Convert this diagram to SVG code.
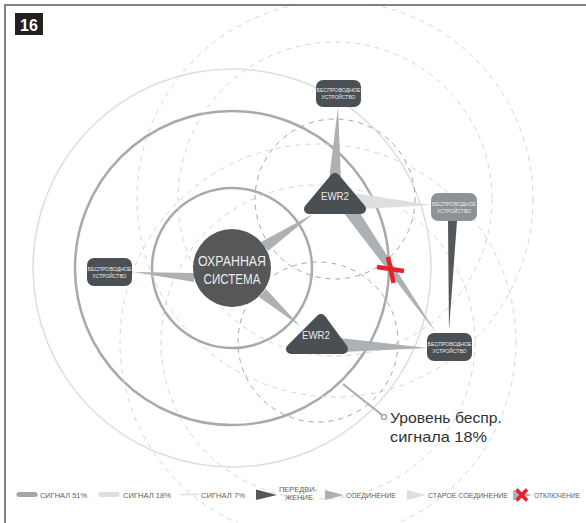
<svg xmlns="http://www.w3.org/2000/svg" width="586" height="523" viewBox="0 0 586 523">
<style>
text{font-family:"Liberation Sans","DejaVu Sans",Arial,sans-serif}
.ring51{fill:none;stroke:#a6aaad;stroke-width:2.5}
.ring7{fill:none;stroke:#dcdedf;stroke-width:1.5}
.dash51{fill:none;stroke:#a2a6a9;stroke-width:1;stroke-dasharray:5 5}
.dashlt{fill:none;stroke:#d3d5d6;stroke-width:1;stroke-dasharray:5 5}
.conn{fill:#adb1b3}
.old{fill:#dcdedf}
.move{fill:#53585c}
.dev{fill:#4b5054}
.devg{fill:#8d9295}
.devt{fill:#eceded;font-size:6px;text-anchor:middle}
.ewr{fill:#4a4f53;stroke:#4a4f53;stroke-width:10;stroke-linejoin:round}
.ewrt{fill:#e9eaeb;font-size:11.5px;text-anchor:middle}
.leg{fill:#5d6164;font-size:7.5px}
.x{stroke:#e42229;stroke-width:4.5;stroke-linecap:butt}
</style>
<defs>
<clipPath id="area"><rect x="5" y="5" width="581" height="518"/></clipPath>
</defs>
<rect width="586" height="523" fill="#ffffff"/>
<g id="rings" clip-path="url(#area)">
<circle class="ring7" cx="232" cy="268" r="199"/>
<circle class="ring51" cx="232" cy="268" r="157"/>
<circle class="ring51" cx="232" cy="268" r="80"/>
<circle class="dashlt" cx="335" cy="199" r="198"/>
<circle class="dashlt" cx="335" cy="199" r="157"/>
<circle class="dash51" cx="335" cy="199" r="80"/>
<circle class="dashlt" cx="318" cy="342" r="198"/>
<circle class="dashlt" cx="318" cy="342" r="157"/>
<circle class="dash51" cx="318" cy="342" r="80"/>
</g>
<g id="connectors">
<polygon class="conn" points="261,242 268,251 313,214"/>
<polygon class="conn" points="194,273 194,282 133,272"/>
<polygon class="conn" points="259,297 266,289 300,326"/>
<polygon class="conn" points="329,180 341,180 338,107"/>
<polygon class="old" points="352,193 362,209 432,205"/>
<polygon class="conn" points="343,212 358,210 437,334"/>
<polygon class="conn" points="340,338 342,352 428,348"/>
<polygon class="move" points="448,221 457,221 449,330"/>
</g>
<g id="system">
<circle cx="232" cy="268" r="39" fill="#555759"/>
<text x="232" y="266" font-size="14" fill="#eceded" text-anchor="middle" textLength="68" lengthAdjust="spacingAndGlyphs">ОХРАННАЯ</text>
<text x="232" y="284" font-size="14" fill="#eceded" text-anchor="middle" textLength="57" lengthAdjust="spacingAndGlyphs">СИСТЕМА</text>
</g>
<g id="ewr2-top">
<polygon class="ewr" points="335,178 309,209 361,209"/>
<text class="ewrt" x="335" y="200" textLength="28" lengthAdjust="spacingAndGlyphs">EWR2</text>
</g>
<g id="ewr2-bottom">
<polygon class="ewr" points="321,319 291,349 343,349"/>
<text class="ewrt" x="316" y="339" textLength="28" lengthAdjust="spacingAndGlyphs">EWR2</text>
</g>
<g id="device-top">
<rect class="dev" x="316" y="80" width="45" height="27" rx="7"/>
<text class="devt" x="338.5" y="92" textLength="44" lengthAdjust="spacingAndGlyphs">БЕСПРОВОДНОЕ</text>
<text class="devt" x="338.5" y="99" textLength="34" lengthAdjust="spacingAndGlyphs">УСТРОЙСТВО</text>
</g>
<g id="device-left">
<rect class="dev" x="87" y="258" width="45" height="28" rx="7"/>
<text class="devt" x="109.5" y="271" textLength="44" lengthAdjust="spacingAndGlyphs">БЕСПРОВОДНОЕ</text>
<text class="devt" x="109.5" y="278" textLength="34" lengthAdjust="spacingAndGlyphs">УСТРОЙСТВО</text>
</g>
<g id="device-right">
<rect class="devg" x="431" y="193" width="46" height="28" rx="7"/>
<text class="devt" x="454" y="206" textLength="44" lengthAdjust="spacingAndGlyphs">БЕСПРОВОДНОЕ</text>
<text class="devt" x="454" y="213" textLength="34" lengthAdjust="spacingAndGlyphs">УСТРОЙСТВО</text>
</g>
<g id="device-bottom">
<rect class="dev" x="427" y="333" width="45" height="28" rx="7"/>
<text class="devt" x="449.5" y="346" textLength="44" lengthAdjust="spacingAndGlyphs">БЕСПРОВОДНОЕ</text>
<text class="devt" x="449.5" y="353" textLength="34" lengthAdjust="spacingAndGlyphs">УСТРОЙСТВО</text>
</g>
<g id="disconnect">
<line class="x" x1="377" y1="267" x2="404" y2="271"/>
<line class="x" x1="388" y1="257" x2="393.5" y2="283"/>
</g>
<g id="signal-label">
<line x1="343" y1="384" x2="382" y2="415" stroke="#a6aaad" stroke-width="2"/>
<circle cx="384" cy="417" r="2.5" fill="#ffffff" stroke="#a6aaad" stroke-width="1.5"/>
<text x="390" y="423" font-size="15" fill="#2f3336" textLength="112" lengthAdjust="spacingAndGlyphs">Уровень беспр.</text>
<text x="390" y="442" font-size="15" fill="#2f3336" textLength="97" lengthAdjust="spacingAndGlyphs">сигнала 18%</text>
</g>
<g id="legend">
<line x1="19" y1="494.5" x2="35" y2="494.5" stroke="#a2a6a9" stroke-width="5" stroke-linecap="round"/>
<text class="leg" x="40" y="497.5" textLength="47" lengthAdjust="spacingAndGlyphs">СИГНАЛ 51%</text>
<line x1="101" y1="494.5" x2="117" y2="494.5" stroke="#dcdedf" stroke-width="5" stroke-linecap="round"/>
<text class="leg" x="123" y="497.5" textLength="48" lengthAdjust="spacingAndGlyphs">СИГНАЛ 18%</text>
<line x1="180" y1="494.5" x2="199" y2="494.5" stroke="#dcdedf" stroke-width="1.5"/>
<text class="leg" x="201" y="497.5" textLength="44" lengthAdjust="spacingAndGlyphs">СИГНАЛ 7%</text>
<polygon class="move" points="256,489.5 256,500 277,495"/>
<text class="leg" x="298" y="491.5" text-anchor="middle" textLength="38" lengthAdjust="spacingAndGlyphs">ПЕРЕДВИ-</text>
<text class="leg" x="299" y="500" text-anchor="middle" textLength="28" lengthAdjust="spacingAndGlyphs">ЖЕНИЕ</text>
<polygon class="conn" points="325,490 325,500 344,495"/>
<text class="leg" x="346" y="497.5" textLength="50" lengthAdjust="spacingAndGlyphs">СОЕДИНЕНИЕ</text>
<polygon class="old" points="407,490 407,500 426,495"/>
<text class="leg" x="428" y="497.5" textLength="80" lengthAdjust="spacingAndGlyphs">СТАРОЕ СОЕДИНЕНИЕ</text>
<polygon class="conn" points="513,490 513,500 532,495"/>
<line x1="516.5" y1="489.5" x2="527" y2="500.5" stroke="#e42229" stroke-width="3.5"/>
<line x1="527" y1="489.5" x2="516.5" y2="500.5" stroke="#e42229" stroke-width="3.5"/>
<text class="leg" x="534" y="497.5" textLength="46" lengthAdjust="spacingAndGlyphs">ОТКЛЮЧЕНИЕ</text>
</g>
<g id="frame">
<polyline points="5,523 5,5 586,5" fill="none" stroke="#58595b" stroke-width="1.5"/>
<rect x="15" y="13" width="28" height="22" fill="#231f20"/>
<text x="29" y="30.5" font-size="16" font-weight="bold" fill="#ffffff" text-anchor="middle">16</text>
</g>
</svg>
